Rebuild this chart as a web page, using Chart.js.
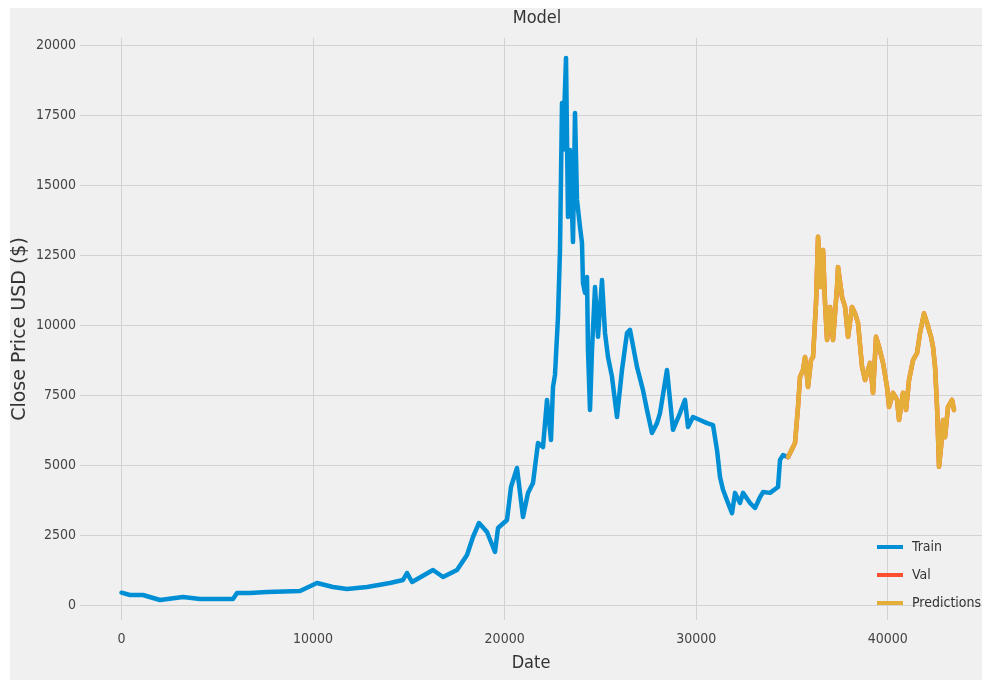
<!DOCTYPE html>
<html>
<head>
<meta charset="utf-8">
<script src="https://cdn.jsdelivr.net/npm/chart.js@4.4.1/dist/chart.umd.min.js"></script>
<style>
  html, body { margin: 0; padding: 0; background: #ffffff; }
  #wrap { position: absolute; left: 0; top: 0; width: 982px; height: 680px; }
</style>
</head>
<body>
<div id="wrap"><canvas id="modelChart" width="982" height="680"></canvas></div>
<script>
// index ("Date") and close price of the training part
var trainDates = [0, 444, 1122, 2010, 3210, 4098, 5820, 6029, 6708, 7595, 9318, 10205, 11040, 11771, 12815,
    14016, 14695, 14904, 15165, 16261, 16783, 17513, 18035, 18348, 18662, 19079, 19497, 19654, 20123,
    20332, 20645, 20958, 21219, 21480, 21741, 22002, 22211, 22420, 22524, 22629, 22785, 22890, 22994,
    23046, 23203, 23307, 23412, 23568, 23673, 23777, 23934, 24038, 24090, 24195, 24299, 24351, 24456,
    24560, 24717, 24874, 25082, 25239, 25396, 25604, 25865, 26126, 26387, 26544, 26909, 27222, 27431,
    27692, 27953, 28110, 28475, 28632, 28789, 29154, 29415, 29572, 29833, 30198, 30564, 30877, 31086,
    31242, 31399, 31660, 31869, 32026, 32287, 32443, 32809, 33070, 33331, 33487, 33853, 34270, 34375,
    34531, 34792];
var trainClose = [457, 375, 375, 196, 303, 232, 232, 446, 446, 482, 518, 803, 660, 589, 660,
    803, 910, 1160, 839, 1267, 1017, 1267, 1803, 2445, 2945, 2624, 1910, 2767, 3052,
    4230, 4909, 3159, 4016, 4373, 5801, 5658, 7336, 5908, 7800, 8238, 10300, 12690, 17940,
    16260, 19550, 13870, 16260, 12980, 17580, 14480, 13510, 12940, 11510, 11160, 11730, 9120, 6980,
    9120, 11370, 9590, 11620, 9730, 8870, 8160, 6730, 8410, 9730, 9840, 8520, 7690, 6980,
    6160, 6510, 6870, 8410, 7340, 6270, 6870, 7340, 6370, 6730, 6620, 6510, 6440, 5550,
    4590, 4130, 3660, 3300, 4020, 3660, 4020, 3660, 3480, 3870, 4050, 4020, 4230, 5200,
    5370, 5300];

// validation part: dates, and the predicted close (the Val line sits right under it)
var validDates = [34792, 34897, 35158, 35314, 35419, 35576, 35680, 35837, 35993, 36098, 36254, 36359,
    36515, 36620, 36724, 36829, 36985, 37142, 37351, 37403, 37612, 37769, 37925, 38134, 38291, 38447,
    38656, 38813, 39074, 39230, 39387, 39543, 39752, 39961, 40065, 40274, 40483, 40587, 40796, 40953,
    41109, 41318, 41527, 41683, 41892, 42049, 42258, 42362, 42467, 42571, 42675, 42780, 42884, 42989,
    43145, 43354, 43458];
var predictions = [5300, 5440, 5800, 7090, 8160, 8410, 8870, 7800, 8760, 8870, 10800, 13160,
    11370, 12690, 10800, 9480, 10660, 9480, 11370, 12080, 11010, 10660, 9590, 10660, 10430, 10080,
    8520, 8050, 8660, 7590, 9590, 9230, 8660, 7800, 7090, 7590, 7340, 6620, 7590, 6980,
    8050, 8760, 9010, 9730, 10430, 10080, 9590, 9230, 8520, 7090, 4950, 5660, 6620, 6010,
    7090, 7340, 6980];
var validClose = predictions;

var xTicks = [0, 10000, 20000, 30000, 40000];
var yTicks = [0, 2500, 5000, 7500, 10000, 12500, 15000, 17500, 20000];

var FONT = "'DejaVu Sans Condensed', 'Liberation Sans Narrow', 'DejaVu Sans', sans-serif";

function toPoints(xs, ys) {
    return xs.map(function (x, i) { return {x: x, y: ys[i]}; });
}

var figureBackground = {
    id: 'figureBackground',
    beforeDraw: function (chart) {
        var ctx = chart.ctx;
        ctx.save();
        ctx.fillStyle = '#ffffff';
        ctx.fillRect(0, 0, chart.width, chart.height);
        ctx.fillStyle = '#f0f0f0';
        ctx.fillRect(10, 8, chart.width - 10, chart.height - 8);
        ctx.restore();
    }
};

// title sits over the plot centre of the (wider) original figure
var plotTitle = {
    id: 'plotTitle',
    afterDraw: function (chart) {
        var ctx = chart.ctx;
        ctx.save();
        ctx.font = "18px " + FONT;
        ctx.fillStyle = '#333333';
        ctx.textAlign = 'center';
        ctx.textBaseline = 'middle';
        ctx.fillText('Model', 537, 18);
        ctx.restore();
    }
};

// legend in the lower right corner of the plot
var cornerLegend = {
    id: 'cornerLegend',
    afterDatasetsDraw: function (chart) {
        var ctx = chart.ctx;
        var x0 = 877, y0 = 547, step = 28;
        ctx.save();
        ctx.font = "14px " + FONT;
        ctx.textBaseline = 'middle';
        chart.data.datasets.forEach(function (ds, i) {
            var y = y0 + i * step;
            ctx.strokeStyle = ds.borderColor;
            ctx.lineWidth = 4;
            ctx.beginPath();
            ctx.moveTo(x0, y);
            ctx.lineTo(x0 + 26, y);
            ctx.stroke();
            ctx.fillStyle = '#333333';
            ctx.fillText(ds.label, x0 + 35, y);
        });
        ctx.restore();
    }
};

var ctx = document.getElementById('modelChart');
var chart = new Chart(ctx, {
    type: 'line',
    data: {
        datasets: [{
            label: 'Train',
            data: toPoints(trainDates, trainClose),
            borderColor: '#008fd5',
            order: 3
        }, {
            label: 'Val',
            data: toPoints(validDates, validClose),
            borderColor: '#fc4f30',
            order: 2
        }, {
            label: 'Predictions',
            data: toPoints(validDates, predictions),
            borderColor: '#e5ae38',
            order: 1
        }]
    },
    options: {
        responsive: false,
        animation: false,
        devicePixelRatio: 1,
        layout: { padding: { top: 38, left: 0, right: 0, bottom: 0 } },
        elements: {
            point: { radius: 0 },
            line: { borderWidth: 4.5, tension: 0, borderJoinStyle: 'round', borderCapStyle: 'round' }
        },
        plugins: {
            legend: { display: false },
            tooltip: { enabled: false },
            title: { display: false }
        },
        scales: {
            x: {
                type: 'linear',
                min: -2166,
                max: 44918,
                afterBuildTicks: function (s) { s.ticks = xTicks.map(function (v) { return {value: v}; }); },
                afterFit: function (s) { s.height = 60; },
                border: { display: false },
                grid: { color: '#d2d2d2', lineWidth: 1, drawTicks: false },
                ticks: {
                    color: '#444444',
                    padding: 11,
                    font: { family: FONT, size: 14 },
                    callback: function (v) { return String(v); }
                },
                title: {
                    display: true,
                    text: 'Date',
                    color: '#333333',
                    font: { family: FONT, size: 18 },
                    padding: { top: 0, bottom: 6 }
                }
            },
            y: {
                type: 'linear',
                min: -518,
                max: 20260,
                afterBuildTicks: function (s) { s.ticks = yTicks.map(function (v) { return {value: v}; }); },
                afterFit: function (s) { s.width = 80; },
                border: { display: false },
                grid: { color: '#d2d2d2', lineWidth: 1, drawTicks: false },
                ticks: {
                    color: '#444444',
                    padding: 4,
                    font: { family: FONT, size: 14 },
                    callback: function (v) { return String(v); }
                },
                title: {
                    display: true,
                    text: 'Close Price USD ($)',
                    color: '#333333',
                    font: { family: "'DejaVu Sans', sans-serif", size: 19 },
                    padding: { top: 9, bottom: 0 }
                }
            }
        }
    },
    plugins: [figureBackground, plotTitle, cornerLegend]
});
</script>
</body>
</html>
